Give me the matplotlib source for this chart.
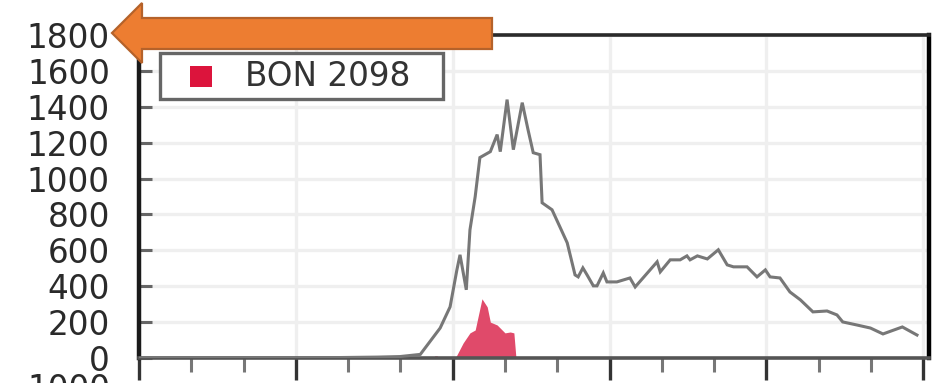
import matplotlib
matplotlib.use("Agg")
import matplotlib.pyplot as plt
from matplotlib.patches import Polygon, Rectangle

W, H, DPI = 933, 383, 100

# Total series (grey line)
total_x = [0.0, 3.08, 4.55, 4.99, 5.38, 5.76, 5.95, 6.08, 6.14, 6.26, 6.33, 6.43,
           6.52, 6.72, 6.85, 6.91, 7.04, 7.16, 7.33, 7.44, 7.54, 7.67, 7.71, 7.90,
           8.05, 8.19, 8.34, 8.40, 8.49, 8.57, 8.69, 8.76, 8.88, 8.95, 9.14, 9.39,
           9.49, 9.64, 9.91, 9.97, 10.16, 10.35, 10.48, 10.54, 10.68, 10.87, 11.08,
           11.25, 11.37, 11.63, 11.82, 11.98, 12.07, 12.26, 12.45, 12.65, 12.89,
           13.16, 13.35, 13.46, 13.73, 13.99, 14.23, 14.60, 14.88]
total_y = [0, 0, 5, 8, 20, 167, 285, 491, 575, 380, 714, 899,
           1117, 1150, 1245, 1150, 1440, 1161, 1423, 1273, 1144, 1133, 865, 826,
           731, 642, 463, 452, 502, 463, 402, 402, 474, 424, 424, 446,
           396, 446, 536, 480, 547, 547, 569, 547, 569, 552, 603,
           519, 508, 508, 452, 491, 452, 446, 368, 324, 257,
           262, 240, 201, 184, 167, 134, 173, 128]

# BON 2098 series (filled area)
bon_x = [5.62, 5.66, 5.70, 5.74, 6.05, 6.20, 6.33, 6.43, 6.56, 6.66, 6.72, 6.85,
         7.00, 7.10, 7.17, 7.21]
bon_y = [0, 12, 12, 0, 0, 84, 140, 156, 330, 285, 200, 184,
         140, 145, 140, 0]

legend_label = "BON 2098"
y_ticks = [0, 200, 400, 600, 800, 1000, 1200, 1400, 1600, 1800]
x_major = [0, 3, 6, 9, 12, 15]
x_minor = list(range(0, 16))

fig = plt.figure(figsize=(W / DPI, H / DPI), dpi=DPI)
fig.patch.set_facecolor("white")

def fx(px):
    return px / W

def fy(py):
    return 1 - py / H

ax = fig.add_axes([fx(139), fy(358), fx(929) - fx(139), fy(35) - fy(358)])
ax.set_xlim(0, 15.11)
ax.set_ylim(0, 1800)

# grid
for yv in y_ticks[1:]:
    ax.axhline(yv, color="#efefef", lw=2.4, zorder=0)
for xv in x_major[1:]:
    ax.axvline(xv, color="#efefef", lw=2.4, zorder=0)

ax.fill_between(bon_x, bon_y, 0, color="#e04a6a", lw=0, zorder=2)
ax.plot(total_x, total_y, color="#777777", lw=2.2, zorder=3,
        solid_joinstyle="miter")

# spines
for side, col, lw in [("left", "#1a1a1a", 3.2), ("right", "#000000", 3.2),
                      ("top", "#2a2a2a", 2.6), ("bottom", "#555555", 2.6)]:
    ax.spines[side].set_color(col)
    ax.spines[side].set_linewidth(lw)

ax.set_yticks(y_ticks)
ax.set_yticklabels([str(v) for v in y_ticks])
ax.tick_params(axis="y", direction="in", length=9, width=2.2, color="#666666",
               pad=21, labelsize=23.5, labelcolor="#2a2a2a")

ax.set_xticks(x_major)
ax.set_xticks([v for v in x_minor if v not in x_major], minor=True)
ax.set_xticklabels([])
ax.tick_params(axis="x", which="major", direction="out", length=16, width=2.4,
               color="#333333")
ax.tick_params(axis="x", which="minor", direction="out", length=10, width=2.2,
               color="#777777")

# legend box
fig.patches.append(Rectangle((fx(160), fy(99)), fx(443) - fx(160), fy(53) - fy(99),
                             transform=fig.transFigure, facecolor="white",
                             edgecolor="#666666", lw=2.4, zorder=5))
fig.patches.append(Rectangle((fx(190), fy(87)), fx(212) - fx(190), fy(66) - fy(87),
                             transform=fig.transFigure, facecolor="#dc143c",
                             edgecolor="none", zorder=6))
fig.text(fx(245), fy(76), legend_label, fontsize=23.5, color="#333333",
         va="center", ha="left", zorder=7)

# label running off the lower edge
fig.text(fx(110), fy(373), "1000", fontsize=23.5, color="#2a2a2a",
         ha="right", va="top", zorder=7)

# orange arrow pointing at the top of the axis
arrow_px = [(112, 33), (142, 3), (142, 18), (492, 18), (492, 49),
            (142, 49), (142, 63)]
fig.patches.append(Polygon([(fx(a), fy(b)) for a, b in arrow_px], closed=True,
                           transform=fig.transFigure, facecolor="#ed7d31",
                           edgecolor="#b5622a", lw=1.6, zorder=10))

fig.savefig("out.png", dpi=DPI)
